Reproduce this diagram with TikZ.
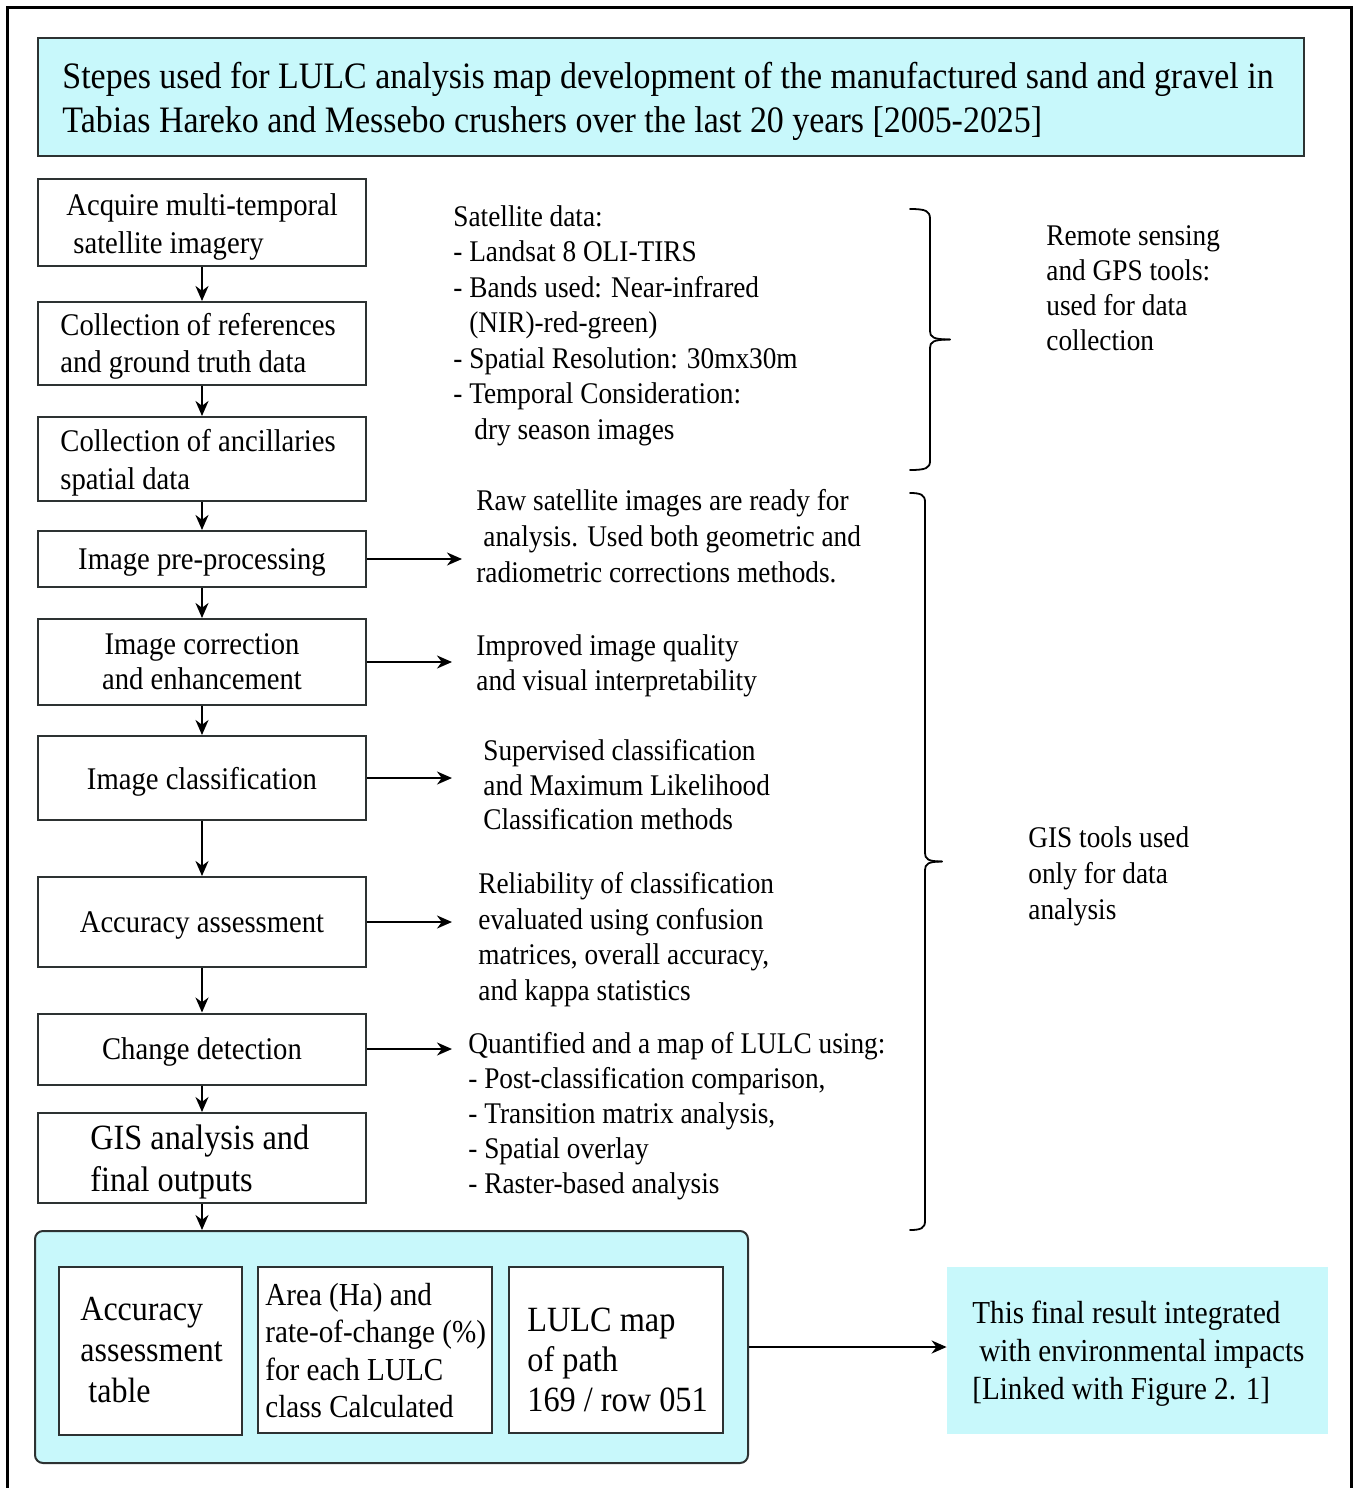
\documentclass[tikz,border=0pt]{standalone}
\usepackage{fontspec}
\setmainfont{Liberation Serif}[FakeStretch=0.91]
\usetikzlibrary{arrows.meta}
\definecolor{panelcyan}{RGB}{200,248,251}
\definecolor{edgegray}{RGB}{45,50,50}

\begin{document}
\begin{tikzpicture}[x=0.5pt,y=-0.5pt,
  stepbox/.style={draw=edgegray, line width=1pt, rectangle, inner sep=0pt, text depth=0pt,
    minimum width=164pt, align=center, font=\fontsize{15.75}{18.5}\selectfont},
  outbox/.style={draw=edgegray, line width=1pt, fill=white, rectangle, inner sep=0pt},
  txt/.style={anchor=west, inner sep=0pt, yshift=-1.5pt, align=left, font=\fontsize{15}{17.75}\selectfont},
  flow/.style={-{Stealth[length=7.5pt,width=6.5pt,inset=2.4pt]}, line width=1pt},
  bracket/.style={line width=0.9pt, line cap=round, line join=round}
]
\useasboundingbox (0,0) rectangle (1355,1488);
\fill[white] (0,0) rectangle (1355,1488);
\draw[line width=1.5pt] (7,7) rectangle (1351,1500);

% heading
\node[draw=edgegray, line width=1pt, fill=panelcyan, inner sep=0pt,
      minimum width=633pt, minimum height=59pt] (title) at (671,97) {};
\node[txt, font=\fontsize{18.65}{22}\selectfont] (titletext) at (62,98)
  {Stepes used for LULC analysis map development of the manufactured sand and gravel in\\
   Tabias Hareko and Messebo crushers over the last 20 years [2005-2025]};

% processing steps
\node[stepbox, minimum height=43.5pt] (s1) at (202,222.5) {};
\node[txt, font=\fontsize{15.75}{19}\selectfont] (s1t) at (66,224)
  {Acquire multi-temporal\\\hspace*{3.5pt}satellite imagery};
\node[stepbox, minimum height=41.5pt] (s2) at (202,343.5) {};
\node[txt, font=\fontsize{15.75}{18.5}\selectfont] (s2t) at (60,343.5)
  {Collection of references\\and ground truth data};
\node[stepbox, minimum height=42pt] (s3) at (202,459) {};
\node[txt, font=\fontsize{15.75}{19}\selectfont] (s3t) at (60,460)
  {Collection of ancillaries\\spatial data};
\node[stepbox, minimum height=28pt] (s4) at (202,559) {Image pre-processing};
\node[stepbox, minimum height=43pt, font=\fontsize{15.75}{17.5}\selectfont] (s5) at (202,662)
  {Image correction\\and enhancement};
\node[stepbox, minimum height=42pt] (s6) at (202,778) {Image classification};
\node[stepbox, minimum height=45pt] (s7) at (202,922) {Accuracy assessment};
\node[stepbox, minimum height=35.5pt] (s8) at (202,1049) {Change detection};
\node[stepbox, minimum height=45pt] (s9) at (202,1158) {};
\node[txt, font=\fontsize{17.75}{21}\selectfont] (s9t) at (90,1159)
  {GIS analysis and\\final outputs};

% outputs panel
\node[draw=edgegray, line width=1pt, fill=panelcyan, rounded corners=4pt, inner sep=0pt,
      minimum width=356.5pt, minimum height=116pt] (grp) at (391.5,1347) {};
\node[outbox, minimum width=91.5pt, minimum height=84pt] (oa) at (150.5,1351) {};
\node[outbox, minimum width=117pt, minimum height=83pt] (ob) at (375,1350) {};
\node[outbox, minimum width=107pt, minimum height=83pt] (oc) at (616,1350) {};
\node[txt, font=\fontsize{17.6}{20.5}\selectfont] (oat) at (80,1347)
  {Accuracy\\assessment\\\hspace*{4pt}table};
\node[txt, font=\fontsize{16}{18.67}\selectfont] (obt) at (265,1347.5)
  {Area (Ha) and\\rate-of-change (\%)\\for each LULC\\class Calculated};
\node[txt, font=\fontsize{17.75}{20}\selectfont] (oct) at (527,1357)
  {LULC map\\of path\\169 / row 051};

% integration box
\node[fill=panelcyan, inner sep=0pt, minimum width=190.5pt, minimum height=83.5pt] (fin) at (1137.5,1350.5) {};
\node[txt, font=\fontsize{16}{19}\selectfont] (fint) at (972,1351)
  {This final result integrated\\\hspace*{3.5pt}with environmental impacts\\{[}Linked with Figure 2. 1{]}};

% descriptions
\node[txt] (d1) at (453,322.5)
  {Satellite data:\\- Landsat 8 OLI-TIRS\\- Bands used: Near-infrared\\\hspace*{8pt}(NIR)-red-green)\\
   - Spatial Resolution: 30mx30m\\- Temporal Consideration:\\\hspace*{10.5pt}dry season images};
\node[txt, font=\fontsize{15}{18}\selectfont] (d2) at (476,533.6)
  {Raw satellite images are ready for\\\hspace*{3.5pt}analysis. Used both geometric and\\radiometric corrections methods.};
\node[txt, font=\fontsize{15}{17.5}\selectfont] (d3) at (476,662.5)
  {Improved image quality\\and visual interpretability};
\node[txt, font=\fontsize{15}{17.25}\selectfont] (d4) at (483,782)
  {Supervised classification\\and Maximum Likelihood\\Classification methods};
\node[txt, font=\fontsize{15}{17.8}\selectfont] (d5) at (478,936.5)
  {Reliability of classification\\evaluated using confusion\\matrices, overall accuracy,\\and kappa statistics};
\node[txt, font=\fontsize{15}{17.5}\selectfont] (d6) at (468,1113)
  {Quantified and a map of LULC using:\\- Post-classification comparison,\\- Transition matrix analysis,\\
   - Spatial overlay\\- Raster-based analysis};

% tool labels
\node[txt, font=\fontsize{15}{17.5}\selectfont] (r1) at (1046,285)
  {Remote sensing\\and GPS tools:\\used for data\\collection};
\node[txt, font=\fontsize{15}{18}\selectfont] (r2) at (1028,873)
  {GIS tools used\\only for data\\analysis};

% braces grouping the description columns
\coordinate (b1top) at (910,209);
\coordinate (b1tip) at (950,339.5);
\coordinate (b1bot) at (910,470);
\coordinate (b2top) at (910,493);
\coordinate (b2tip) at (942,861.5);
\coordinate (b2bot) at (910,1230);
\draw[bracket] (b1top) .. controls (926,209) and (930,211) .. (930,219) -- (930,331)
  .. controls (930,337) and (933,339.5) .. (b1tip);
\draw[bracket] (b1tip) .. controls (933,339.5) and (930,342) .. (930,348) -- (930,461)
  .. controls (930,468) and (926,470) .. (b1bot);
\draw[bracket] (b2top) .. controls (921,493) and (925,495) .. (925,502) -- (925,853)
  .. controls (925,859) and (928,861.5) .. (b2tip);
\draw[bracket] (b2tip) .. controls (928,861.5) and (925,864) .. (925,870) -- (925,1221)
  .. controls (925,1228) and (921,1230) .. (b2bot);

% flow connectors
\draw[flow] (s1) -- (s2);
\draw[flow] (s2) -- (s3);
\draw[flow] (s3) -- (s4);
\draw[flow] (s4) -- (s5);
\draw[flow] (s5) -- (s6);
\draw[flow] (s6) -- (s7);
\draw[flow] (s7) -- (s8);
\draw[flow] (s8) -- (s9);
\draw[flow] (s9.south) -- (s9.south |- grp.north);

\coordinate (e4) at (462,559);
\coordinate (e5) at (452,662);
\coordinate (e6) at (452,778);
\coordinate (e7) at (452,922);
\coordinate (e8) at (452,1049);
\draw[flow] (s4.east) -- (e4);
\draw[flow] (s5.east) -- (e5);
\draw[flow] (s6.east) -- (e6);
\draw[flow] (s7.east) -- (e7);
\draw[flow] (s8.east) -- (e8);
\draw[flow] (grp.east) -- (grp.east -| fin.west);
\end{tikzpicture}
\end{document}
